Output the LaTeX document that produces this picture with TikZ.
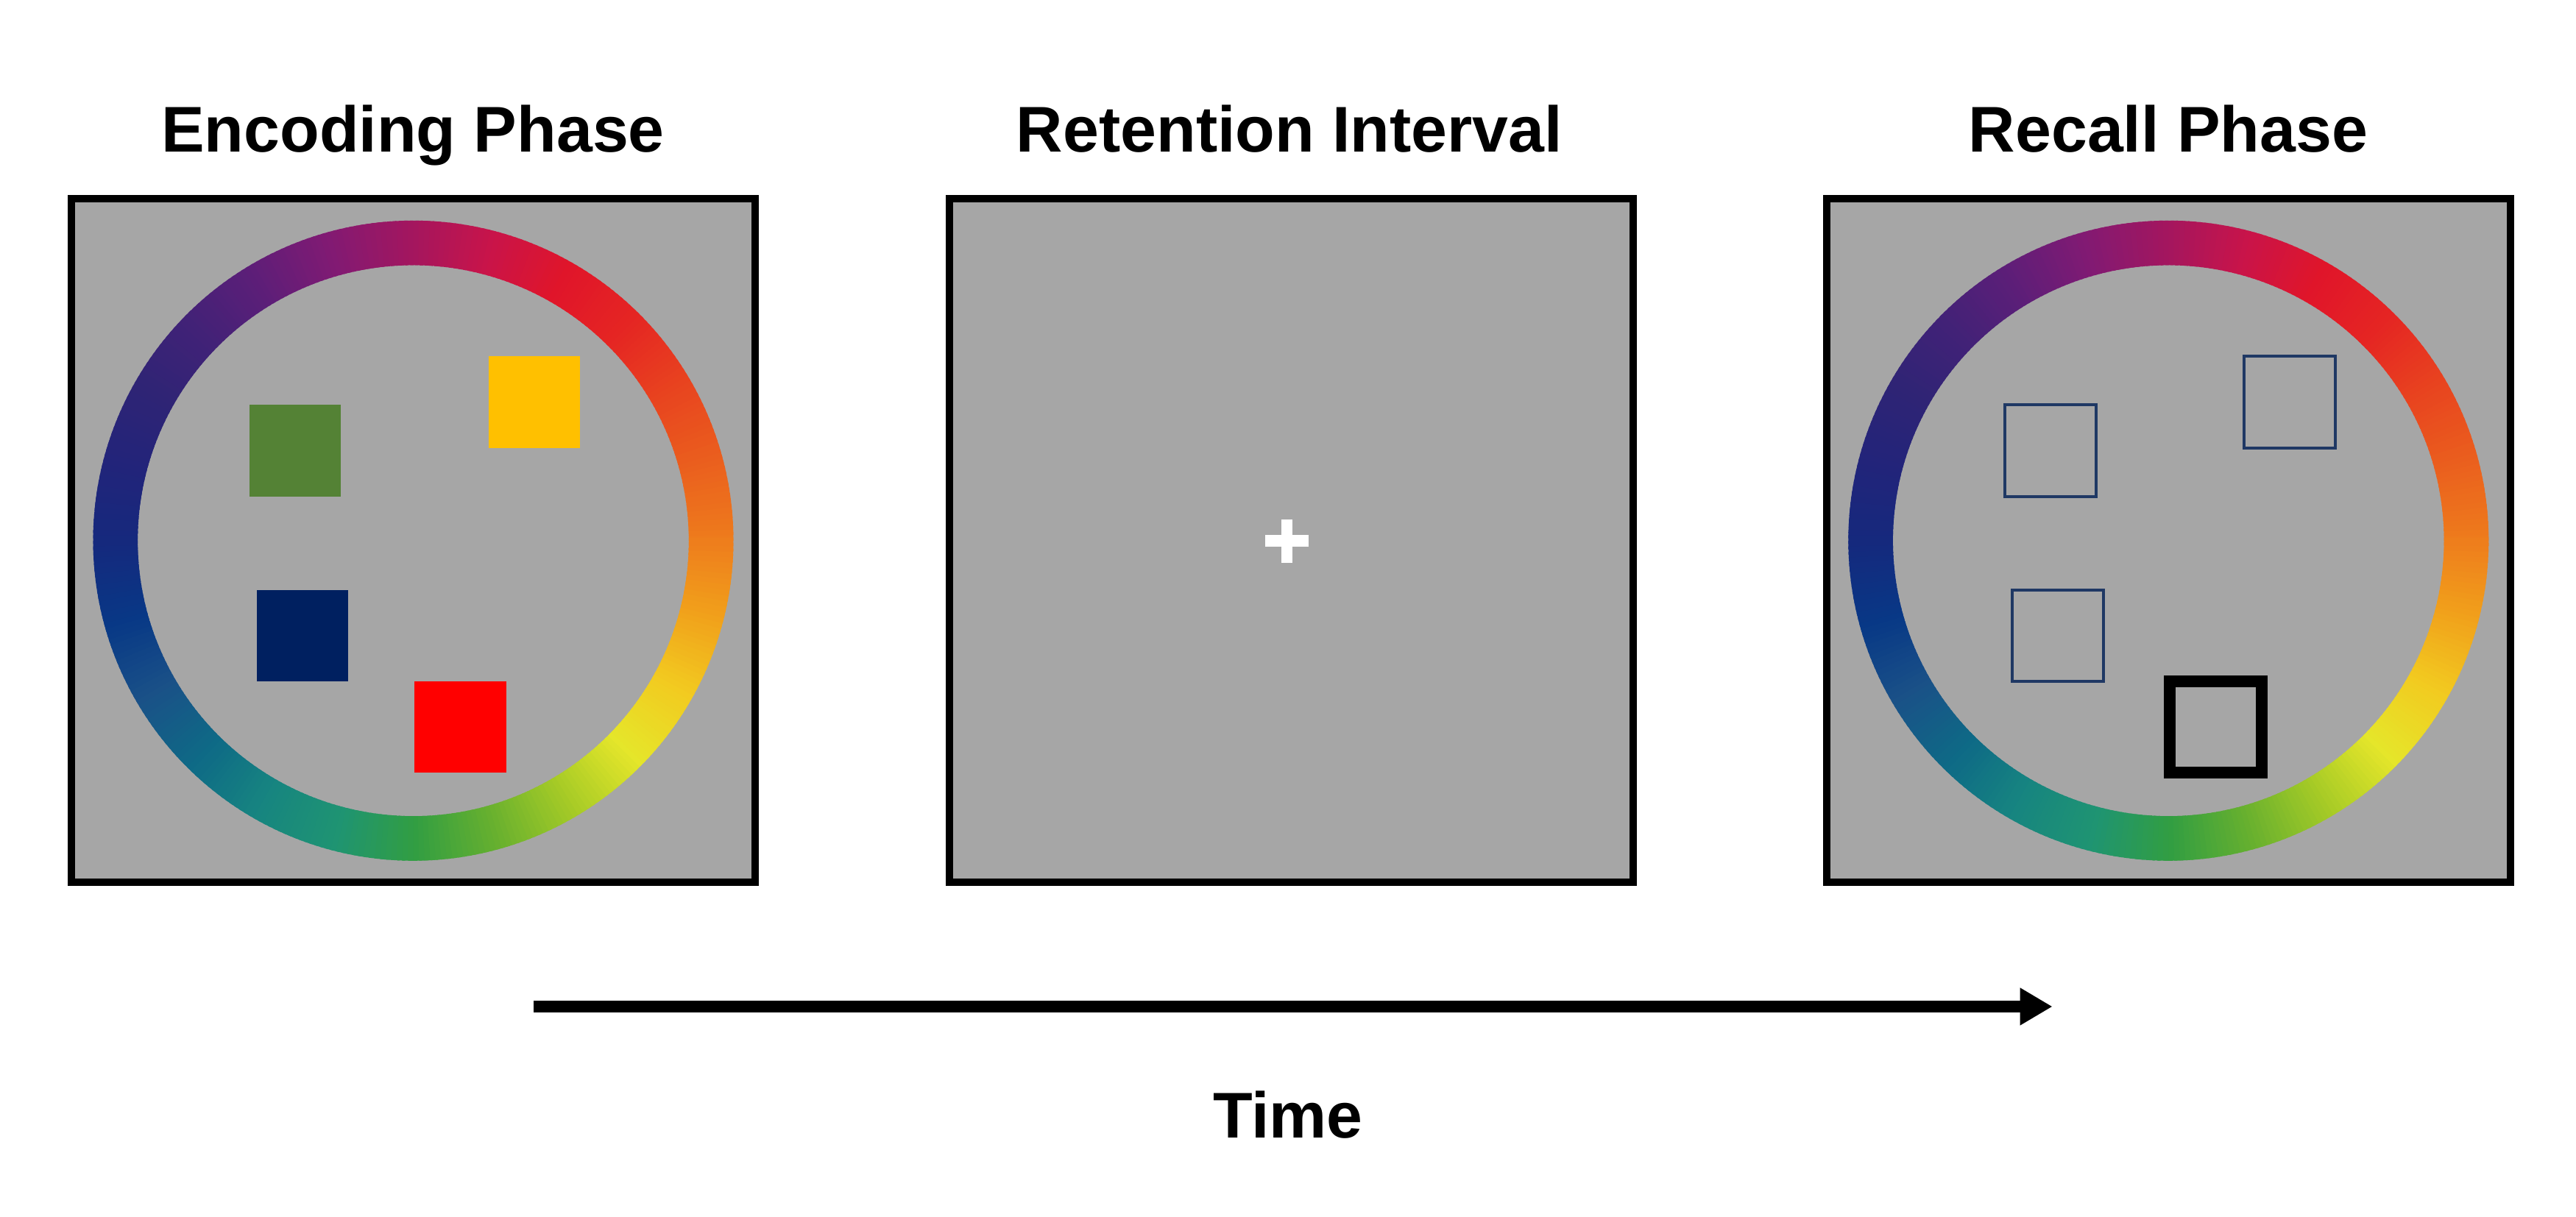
\documentclass[tikz,border=0pt]{standalone}
\usepackage{fontspec}
\setmainfont{Liberation Sans}
\usetikzlibrary{arrows.meta}
\definecolor{panelgray}{HTML}{A6A6A6}
\definecolor{sqgreen}{HTML}{548235}
\definecolor{sqyellow}{HTML}{FFC000}
\definecolor{sqnavy}{HTML}{002060}
\definecolor{sqred}{HTML}{FF0000}
\definecolor{outlinenavy}{HTML}{1F3864}
% ring key colours every 15 degrees (counter-clockwise from 3 o'clock)
\definecolor{rk0}{HTML}{EE7B1C}
\definecolor{rk1}{HTML}{EA5E1E}
\definecolor{rk2}{HTML}{E8431F}
\definecolor{rk3}{HTML}{E52523}
\definecolor{rk4}{HTML}{E0152A}
\definecolor{rk5}{HTML}{C8144A}
\definecolor{rk6}{HTML}{A3165F}
\definecolor{rk7}{HTML}{821A73}
\definecolor{rk8}{HTML}{5E1E78}
\definecolor{rk9}{HTML}{422277}
\definecolor{rk10}{HTML}{2F2475}
\definecolor{rk11}{HTML}{22247A}
\definecolor{rk12}{HTML}{15297D}
\definecolor{rk13}{HTML}{083886}
\definecolor{rk14}{HTML}{1A5187}
\definecolor{rk15}{HTML}{0E6A86}
\definecolor{rk16}{HTML}{178580}
\definecolor{rk17}{HTML}{1F9472}
\definecolor{rk18}{HTML}{329E42}
\definecolor{rk19}{HTML}{67B02F}
\definecolor{rk20}{HTML}{A5CA26}
\definecolor{rk21}{HTML}{E5E62A}
\definecolor{rk22}{HTML}{F2CB20}
\definecolor{rk23}{HTML}{F1A11B}
\definecolor{rk24}{HTML}{EE7B1C}
\newcommand\colorring[1]{%
  \begin{scope}[shift={(#1.center)}]
    \foreach \i in {0,...,359}{%
      \pgfmathtruncatemacro\kk{int(\i/15)}%
      \pgfmathtruncatemacro\kn{\kk+1}%
      \pgfmathtruncatemacro\pp{round(100*mod(\i,15)/15)}%
      \colorlet{segc}{rk\kn!\pp!rk\kk}%
      \draw[segc, line width=0.606cm] (\i:4.047cm) arc[start angle=\i, end angle=\i+1.6, radius=4.047cm];
    }
  \end{scope}}
\tikzset{
  panel/.style={rectangle, draw=black, line width=0.1cm, fill=panelgray, minimum size=9.29cm, inner sep=0pt},
  fillsq/.style={rectangle, minimum size=1.245cm, inner sep=0pt},
  thinsq/.style={rectangle, draw=outlinenavy, line width=0.04cm, minimum size=1.245cm, inner sep=0pt},
  thicksq/.style={rectangle, draw=black, line width=0.16cm, minimum size=1.245cm, inner sep=0pt},
  crossbar/.style={rectangle, fill=white, inner sep=0pt},
  title/.style={anchor=base, inner sep=0pt, font=\bfseries\fontsize{25}{30}\selectfont},
  timearrow/.style={line width=0.16cm, -{Triangle[length=0.44cm,width=0.48cm]}}
}
\begin{document}
\begin{tikzpicture}
\useasboundingbox (0,0) rectangle (35,16.53);
\fill[white] (0,0) rectangle (35,16.53);

% titles
\node[title] (t1) at (5.61,14.46) {Encoding Phase};
\node[title] (t2) at (17.52,14.46) {Retention Interval};
\node[title] (t3) at (29.46,14.46) {Recall Phase};

% panels
\node[panel] (p1) at (5.615,9.182) {};
\node[panel] (p2) at (17.54,9.182) {};
\node[panel] (p3) at (29.463,9.182) {};

% colour rings
\colorring{p1}
\colorring{p3}

% encoding squares
\node[fillsq, fill=sqgreen] (g1) at ([shift={(-1.605,1.223)}]p1.center) {};
\node[fillsq, fill=sqyellow] (y1) at ([shift={(1.647,1.883)}]p1.center) {};
\node[fillsq, fill=sqnavy] (n1) at ([shift={(-1.505,-1.293)}]p1.center) {};
\node[fillsq, fill=sqred] (r1) at ([shift={(0.64,-2.53)}]p1.center) {};

% fixation cross
\coordinate (fix) at (17.485,9.178);
\node[crossbar, minimum width=0.59cm, minimum height=0.155cm] (fixh) at (fix) {};
\node[crossbar, minimum width=0.155cm, minimum height=0.59cm] (fixv) at (fix) {};

% recall squares
\node[thinsq] (g3) at ([shift={(-1.605,1.223)}]p3.center) {};
\node[thinsq] (y3) at ([shift={(1.647,1.883)}]p3.center) {};
\node[thinsq] (n3) at ([shift={(-1.505,-1.293)}]p3.center) {};
\node[thicksq] (r3) at ([shift={(0.64,-2.53)}]p3.center) {};

% time arrow
\coordinate (as) at (7.25,2.85);
\coordinate (ae) at (27.886,2.85);
\draw[timearrow] (as) -- (ae);
\node[title] (time) at (17.50,1.063) {Time};
\end{tikzpicture}
\end{document}
